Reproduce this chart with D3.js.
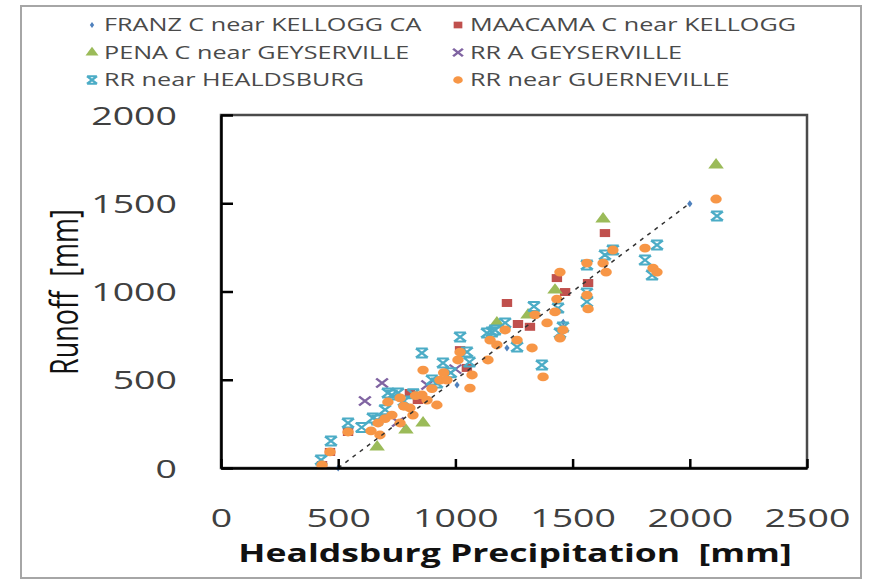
<!DOCTYPE html>
<html>
<head>
<meta charset="utf-8">
<script src="https://cdn.jsdelivr.net/npm/d3@7"></script>
<style>
  body { margin: 0; background: #fff; }
  text { font-family: "Open Sans", "DejaVu Sans", sans-serif; white-space: pre; }
</style>
</head>
<body>
<script>
const width = 869, height = 580;
// the source picture is stretched sideways, so text and markers get a horizontal scale
const sx = 1.5;

const xTicks = [0, 500, 1000, 1500, 2000, 2500];
const yTicks = [0, 500, 1000, 1500, 2000];
const xTitle = 'Healdsburg Precipitation  [mm]';
const yTitle = 'Runoff  [mm]';

// [precipitation mm, runoff mm]
const franz = [[500, 0], [1007, 470], [1220, 680], [1460, 826], [2000, 1497]];
const maacama = [[431, 17], [465, 91], [542, 204], [806, 425], [840, 385], [1020, 668], [1049, 567],
  [1220, 935], [1267, 816], [1318, 800], [1433, 1076], [1468, 997], [1566, 1048], [1638, 1331]];
const pena = [[666, 119], [789, 215], [862, 255], [1177, 822], [1310, 867], [1425, 1008], [1630, 1411], [2112, 1717]];
const rrA = [[614, 380], [687, 482], [755, 261], [880, 470], [1000, 560]];
const rrHeal = [[427, 45], [469, 153], [542, 255], [600, 230], [648, 283], [666, 272], [700, 330], [712, 425],
  [729, 414], [755, 425], [780, 380], [820, 420], [857, 652], [900, 498], [921, 482], [947, 595], [980, 540],
  [1020, 742], [1049, 657], [1060, 600], [1135, 765], [1156, 771], [1169, 782], [1212, 822], [1263, 686],
  [1335, 915], [1369, 584], [1438, 906], [1446, 765], [1459, 799], [1561, 941], [1561, 991], [1561, 1150],
  [1638, 1207], [1672, 1235], [1809, 1178], [1839, 1093], [1860, 1263], [2116, 1428]];
const rrGuer = [[431, 17], [465, 91], [542, 204], [640, 210], [670, 255], [678, 187], [700, 280], [712, 374],
  [729, 300], [764, 397], [764, 255], [780, 350], [806, 340], [819, 300], [830, 410], [857, 414], [862, 555],
  [879, 385], [900, 450], [921, 357], [934, 498], [950, 540], [964, 498], [1011, 612], [1020, 657], [1062, 453],
  [1071, 527], [1139, 612], [1148, 725], [1177, 697], [1212, 782], [1263, 725], [1327, 680], [1340, 867],
  [1374, 516], [1391, 822], [1425, 884], [1433, 957], [1446, 1110], [1446, 736], [1459, 782], [1561, 980],
  [1561, 1161], [1566, 901], [1630, 1161], [1643, 1110], [1672, 1235], [1809, 1246], [1843, 1133],
  [1860, 1110], [2112, 1524]];
// dashed reference line
const refLine = [[500, 0], [2000, 1500]];

const series = [
  {name: 'FRANZ C near KELLOGG CA', data: franz, color: '#4f81bd', shape: 'diamond'},
  {name: 'MAACAMA C near KELLOGG', data: maacama, color: '#c0504d', shape: 'square'},
  {name: 'PENA C near GEYSERVILLE', data: pena, color: '#9bbb59', shape: 'triangle'},
  {name: 'RR A GEYSERVILLE', data: rrA, color: '#8064a2', shape: 'cross'},
  {name: 'RR near HEALDSBURG', data: rrHeal, color: '#4bacc6', shape: 'star'},
  {name: 'RR near GUERNEVILLE', data: rrGuer, color: '#f79646', shape: 'circle'}
];

const margin = {top: 115, right: 62, bottom: 112, left: 221};

const svg = d3.select('body').append('svg')
  .attr('width', width)
  .attr('height', height);

// chart area border
svg.append('rect')
  .attr('x', 21).attr('y', 6)
  .attr('width', 840).attr('height', 572)
  .attr('fill', '#fff')
  .attr('stroke', '#a6a6a6')
  .attr('stroke-width', 2);

const x = d3.scaleLinear().domain([0, 2500]).range([margin.left, width - margin.right]);
const y = d3.scaleLinear().domain([0, 2000]).range([height - margin.bottom, margin.top]);

// plot area box
svg.append('rect')
  .attr('x', x(0)).attr('y', y(2000))
  .attr('width', x(2500) - x(0)).attr('height', y(0) - y(2000))
  .attr('fill', 'none')
  .attr('stroke', '#4a4a4a')
  .attr('stroke-width', 2.5);

// draw one marker
function marker(g, shape, color, s) {
  if (shape === 'diamond') {
    g.append('path').attr('d', d3.symbol(d3.symbolDiamond, 14 * s)()).attr('fill', color);
  } else if (shape === 'square') {
    g.append('path').attr('d', d3.symbol(d3.symbolSquare, 64 * s)()).attr('fill', color);
  } else if (shape === 'triangle') {
    g.append('path').attr('d', d3.symbol(d3.symbolTriangle, 62 * s)()).attr('fill', color);
  } else if (shape === 'circle') {
    g.append('circle').attr('r', 4.4 * Math.sqrt(s)).attr('fill', color);
  } else if (shape === 'cross') {
    const r = 4.5 * Math.sqrt(s);
    g.append('path').attr('d', `M${-r},${-r}L${r},${r}M${r},${-r}L${-r},${r}`)
      .attr('stroke', color).attr('stroke-width', 2).attr('fill', 'none');
  } else if (shape === 'star') {
    const r = 4.5 * Math.sqrt(s);
    g.append('path')
      .attr('d', `M${-r},${-r}L${r},${r}M${r},${-r}L${-r},${r}M${-r},${-r}L${r},${-r}M${-r},${r}L${r},${r}`)
      .attr('stroke', color).attr('stroke-width', 2).attr('fill', 'none');
  }
}

// points, in series order so orange ends up on top
series.forEach(sr => {
  svg.append('g')
    .selectAll('g')
    .data(sr.data)
    .join('g')
    .attr('transform', d => `translate(${x(d[0])},${y(d[1])}) scale(1.3,1)`)
    .each(function () { marker(d3.select(this), sr.shape, sr.color, 1); });
});

// dashed line on top of the points
svg.append('path')
  .datum(refLine)
  .attr('d', d3.line().x(d => x(d[0])).y(d => y(d[1])))
  .attr('fill', 'none')
  .attr('stroke', '#333')
  .attr('stroke-width', 1.5)
  .attr('stroke-dasharray', '4,5');

// axes, ticks pointing inward
const yAxis = svg.append('g')
  .attr('transform', `translate(${x(0)},0)`)
  .call(d3.axisLeft(y).tickValues(yTicks).tickSizeInner(-12).tickSizeOuter(0).tickFormat(d3.format('d')));
const xAxis = svg.append('g')
  .attr('transform', `translate(0,${y(0)})`)
  .call(d3.axisBottom(x).tickValues(xTicks).tickSizeInner(-9).tickSizeOuter(0).tickFormat(d3.format('d')));

[xAxis, yAxis].forEach(a => {
  a.select('.domain').attr('stroke', '#000').attr('stroke-width', 2.5);
  a.selectAll('.tick line').attr('stroke', '#000').attr('stroke-width', 2.5);
  a.selectAll('.tick text').attr('fill', '#404040').style('font-size', '25px');
});
yAxis.selectAll('.tick text')
  .attr('x', 0).attr('dy', '0.36em')
  .attr('transform', `translate(-44,0) scale(${sx},1)`);
xAxis.selectAll('.tick text')
  .attr('y', 0).attr('dy', '0.36em')
  .attr('transform', `translate(0,50) scale(${sx},1)`);

// axis titles
svg.append('text')
  .attr('transform', `translate(515,562) scale(1.42,1)`)
  .attr('text-anchor', 'middle')
  .style('font-size', '25px')
  .style('font-weight', 'bold')
  .attr('fill', '#111')
  .text(xTitle);

svg.append('text')
  .attr('transform', `translate(78,292) scale(1.4,1) rotate(-90)`)
  .attr('text-anchor', 'middle')
  .style('font-size', '27px')
  .attr('fill', '#111')
  .text(yTitle);

// legend: two columns, row-major
const legend = svg.append('g')
  .selectAll('g')
  .data(series)
  .join('g')
  .attr('transform', (d, i) => `translate(${i % 2 ? 458 : 92},${25 + Math.floor(i / 2) * 27.5})`);

legend.append('g')
  .attr('transform', 'scale(1.3,1)')
  .each(function (d) { marker(d3.select(this), d.shape, d.color, 0.7); });

legend.append('text')
  .attr('transform', `translate(12,0) scale(1.4,1)`)
  .attr('dy', '0.36em')
  .style('font-size', '18px')
  .attr('fill', '#4a4a4a')
  .text(d => d.name);
</script>
</body>
</html>
